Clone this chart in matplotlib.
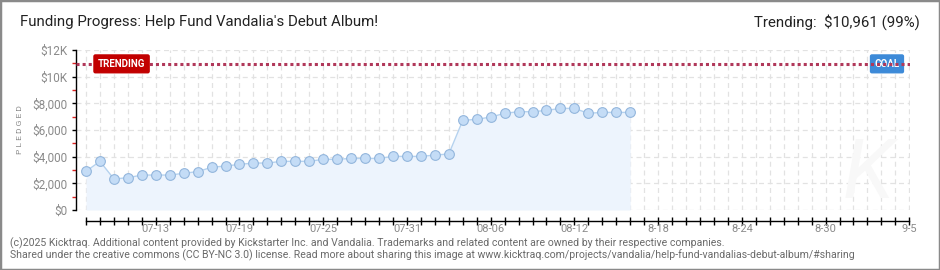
import matplotlib
matplotlib.use("Agg")
import matplotlib.pyplot as plt
from matplotlib.patches import Rectangle
from matplotlib.ticker import FixedLocator, NullFormatter
import datetime as dt

# ---- data ----
start_date = dt.date(2025, 7, 8)
end_date = dt.date(2025, 9, 5)
pledged = [2900, 3650, 2330, 2420, 2620, 2620, 2620, 2750, 2880, 3200,
           3300, 3420, 3520, 3520, 3650, 3650, 3650, 3800, 3800, 3870,
           3870, 3870, 4020, 4020, 4020, 4120, 4200, 6720, 6800, 6970,
           7250, 7370, 7370, 7470, 7620, 7620, 7250, 7320, 7320, 7320]
trending = 10961
goal = 11000
x_label_dates = ["07-13", "07-19", "07-25", "07-31", "08-06", "08-12",
                 "8-18", "8-24", "8-30", "9-5"]
y_major = [0, 2000, 4000, 6000, 8000, 10000, 12000]
y_major_labels = ["$0", "$2,000", "$4,000", "$6,000", "$8,000", "$10K", "$12K"]
y_minor = [1000, 3000, 5000, 7000, 9000, 11000]

title = "Funding Progress: Help Fund Vandalia's Debut Album!"
footer1 = ("(c)2025 Kicktraq. Additional content provided by Kickstarter Inc. and Vandalia. "
           "Trademarks and related content are owned by their respective companies.")
footer2 = ("Shared under the creative commons (CC BY-NC 3.0) license. Read more about sharing this "
           "image at www.kicktraq.com/projects/vandalia/help-fund-vandalias-debut-album/#sharing")

FONT = "Roboto"
plt.rcParams["font.family"] = [FONT, "DejaVu Sans"]

ndays = (end_date - start_date).days
days = list(range(len(pledged)))

W, H = 940, 270
PT = 72 / 100  # points per pixel at dpi 100
fig = plt.figure(figsize=(W / 100, H / 100), dpi=100)
fig.patch.set_facecolor("white")

def px(x0, y0, x1, y1):
    return [x0 / W, 1 - y1 / H, (x1 - x0) / W, (y1 - y0) / H]

ax = fig.add_axes(px(76, 50, 910, 210))
ax.set_xlim(-10 / 13.95, ndays + 0.05)
ax.set_ylim(0, 12000)

# grid
for d in range(0, ndays + 1):
    ax.axvline(d, color="#e2e2e2", lw=0.9, ls=(0, (4, 3)), zorder=0)
for v in y_major:
    ax.axhline(v, color="#e2e2e2", lw=0.9, ls=(0, (4, 3)), zorder=0)

# series
ax.fill_between(days, pledged, 0, color="#edf4fd", zorder=1, lw=0)
ax.plot(days, pledged, color="#b5d2ef", lw=1.0, zorder=2,
        marker="o", ms=7, mfc="#c4dcf6", mec="#93b6dc", mew=0.8)

# trending / goal line
ax.axhline(trending, color="#b0385a", lw=2.2, ls=(0, (1, 1)), zorder=4)
ax.text(0.85, trending, "TRENDING", color="white", fontsize=7, fontweight="bold",
        va="center", ha="left", zorder=5,
        bbox=dict(boxstyle="round,pad=0.4,rounding_size=0.15", fc="#c20000", ec="#c20000"))
ax.text(57.4, trending, "GOAL", color="white", fontsize=7, fontweight="bold",
        va="center", ha="center", zorder=3,
        bbox=dict(boxstyle="round,pad=0.4,rounding_size=0.15", fc="#3d8ad8", ec="#3d8ad8"))

# watermark
fig.text(868 / W, 1 - 175 / H, "K", fontsize=60, color="#f8f8f8", style="italic",
         ha="center", va="center", zorder=0)

# spines
for s in ["top", "right"]:
    ax.spines[s].set_visible(False)
ax.spines["left"].set_color("black")
ax.spines["left"].set_linewidth(1.4 * PT)
ax.spines["bottom"].set_position(("outward", 11 * PT))
ax.spines["bottom"].set_bounds(0, ndays)
ax.spines["bottom"].set_linewidth(1.4 * PT)

# y ticks
ax.yaxis.set_major_locator(FixedLocator(y_major))
ax.set_yticklabels(y_major_labels)
ax.yaxis.set_minor_locator(FixedLocator(y_minor))
ax.tick_params(axis="y", which="major", length=4 * PT, width=1.4 * PT, color="black",
               labelsize=8.5, labelcolor="#8a8a8a", pad=3)
ax.tick_params(axis="y", which="minor", length=4 * PT, width=1.4 * PT, color="#dd2222")

# x ticks (every day) with date labels placed just under the axis line
label_pos = [(dt.date(2025, int(s.split("-")[0]), int(s.split("-")[1])) - start_date).days
             for s in x_label_dates]
ax.xaxis.set_major_locator(FixedLocator(list(range(0, ndays + 1))))
ax.xaxis.set_major_formatter(NullFormatter())
ax.tick_params(axis="x", which="both", direction="inout", length=8 * PT, width=1.4 * PT,
               color="black")
for p, s in zip(label_pos, x_label_dates):
    ax.text(p, -19.5 / 160, s, transform=ax.get_xaxis_transform(), fontsize=8,
            color="#8a8a8a", ha="center", va="center")

# y label
fig.text(20 / W, 1 - 130 / H, "P L E D G E D", fontsize=6, color="#8a8a8a",
         rotation=90, ha="center", va="center")

# title texts
fig.text(20 / W, 1 - 22 / H, title, fontsize=10.8, color="#222222",
         ha="left", va="center")
fig.text(920 / W, 1 - 22 / H, "Trending:  \\$10,961 (99%)", fontsize=10.8,
         color="#222222", ha="right", va="center")

# footer
fig.text(10 / W, 1 - 243 / H, footer1, fontsize=7.6, color="#6a6a6a",
         ha="left", va="center")
fig.text(10 / W, 1 - 255.5 / H, footer2, fontsize=7.6, color="#6a6a6a",
         ha="left", va="center")

# border
fig.patches.append(Rectangle((0, 0), 1, 1, transform=fig.transFigure,
                             fill=False, ec="#8a8a8a", lw=2.5, zorder=10))

fig.savefig("out.png", dpi=100, facecolor="white")
